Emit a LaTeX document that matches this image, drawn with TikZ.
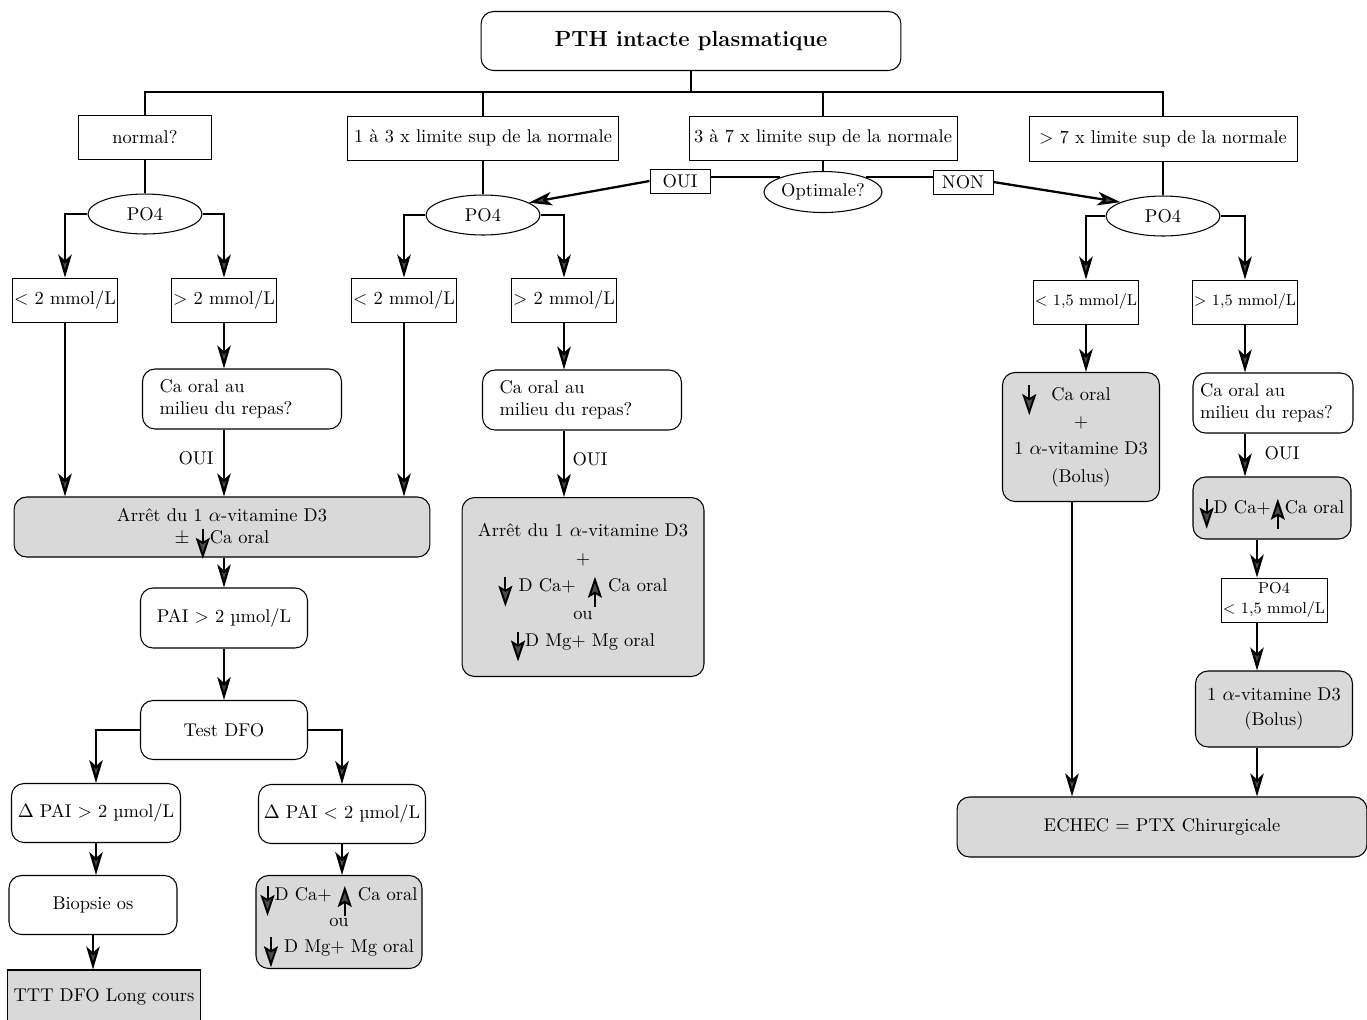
\documentclass[tikz,border=0pt]{standalone}
\usetikzlibrary{arrows.meta,shapes.geometric}
\newcommand{\arrdn}{\smash{\tikz[baseline=0pt]\draw[line width=1.1pt,-{Stealth[length=4.2mm,width=2.8mm,inset=0.8mm,fill=black!70]}] (0,0.3cm)--(0,-0.3cm);}}
\newcommand{\arrup}{\smash{\tikz[baseline=0pt]\draw[line width=1.1pt,-{Stealth[length=4.2mm,width=2.8mm,inset=0.8mm,fill=black!70]}] (0,-0.3cm)--(0,0.3cm);}}
\begin{document}
\begin{tikzpicture}[x=0.02cm, y=-0.02cm, font=\fontsize{10.5}{12.6}\selectfont,
  box/.style={draw, line width=0.5pt, inner sep=1pt, minimum height=0.88cm},
  rbox/.style={draw, line width=0.6pt, rounded corners=2.5mm, inner sep=2pt, align=center},
  gbox/.style={rbox, fill=black!15},
  oval/.style={ellipse, draw, line width=0.6pt, minimum width=2.28cm, minimum height=0.8cm, inner sep=0pt},
  small/.style={font=\fontsize{9}{11}\selectfont},
  wire/.style={line width=1.3pt},
  arr/.style={line width=1.3pt, -{Stealth[length=4.6mm,width=2.7mm,inset=1.2mm,fill=black!70]}}]
\useasboundingbox (0,0) rectangle (1367,1019);
\node[rbox, minimum width=8.4cm, minimum height=1.18cm, font=\fontsize{12.5}{15}\selectfont\bfseries] (pth) at (691,41) {PTH intacte plasmatique};
\coordinate (bus) at (691,92);
\node[box, minimum width=2.66cm] (normal) at (145,137) {normal?};
\node[box, minimum width=5.42cm] (lim13) at (483,138) {1 à 3 x limite sup de la normale};
\node[box, minimum width=5.36cm] (lim37) at (823,138) {3 à 7 x limite sup de la normale};
\node[box, minimum width=5.36cm, minimum height=0.9cm] (lim7) at (1163,139) {> 7 x limite sup de la normale};
\draw[wire] (pth.south) -- (bus);
\draw[wire] (normal.north) |- (lim7.north |- bus) -- (lim7.north);
\draw[wire] (lim13.north) -- (lim13.north |- bus);
\draw[wire] (lim37.north) -- (lim37.north |- bus);
\node[oval] (poA) at (145,214) {PO4};
\node[oval] (poB) at (483,215) {PO4};
\node[oval] (poC) at (1163,216) {PO4};
\node[oval, minimum height=0.82cm] (optim) at (823,192) {Optimale?};
\node[box, minimum height=0.48cm, minimum width=1.2cm] (oui) at (680,181) {OUI};
\node[box, minimum height=0.48cm, minimum width=1.2cm] (non) at (963,182) {NON};
\draw[wire] (normal.south) -- (poA.north);
\draw[wire] (lim13.south) -- (poB.north);
\draw[wire] (lim7.south) -- (poC.north);
\draw[wire] (lim37.south) -- (optim.north);
\draw[wire] (optim.161) -- (optim.161 -| oui.east);
\draw[wire] (optim.19) -- (optim.19 -| non.west);
\draw[arr] (oui.west) -- (poB.15);
\draw[arr] (non.east) -- (poC.162);
\node[box, minimum width=2.1cm] (lowA) at (65,300) {< 2 mmol/L};
\node[box, minimum width=2.1cm] (highA) at (224,300) {> 2 mmol/L};
\node[box, minimum width=2.1cm] (lowB) at (404,300) {< 2 mmol/L};
\node[box, minimum width=2.1cm] (highB) at (564,300) {> 2 mmol/L};
\node[box, small, minimum width=2.1cm] (lowC) at (1086,302) {< 1,5 mmol/L};
\node[box, small, minimum width=2.1cm] (highC) at (1245,302) {> 1,5 mmol/L};
\draw[arr] (poA.west) -| (lowA.north);
\draw[arr] (poA.east) -| (highA.north);
\draw[arr] (poB.west) -| (lowB.north);
\draw[arr] (poB.east) -| (highB.north);
\draw[arr] (poC.west) -| (lowC.north);
\draw[arr] (poC.east) -| (highC.north);
\node[rbox, align=left, text width=3.3cm, inner xsep=0.34cm, minimum height=1.2cm] (mealA) at (242,399) {Ca oral au\\milieu du repas?};
\node[rbox, align=left, text width=3.3cm, inner xsep=0.34cm, minimum height=1.2cm] (mealB) at (582,400) {Ca oral au\\milieu du repas?};
\node[rbox, align=left, text width=2.92cm, inner xsep=0.14cm, minimum height=1.2cm] (mealC) at (1273,403) {Ca oral au\\milieu du repas?};
\node[gbox, minimum width=8.32cm, minimum height=1.2cm] (stopA) at (222,527) {Arrêt du 1 $\alpha$-vitamine D3\\$\pm$ \arrdn Ca oral};
\node[gbox, minimum width=4.84cm, minimum height=3.58cm] (stopB) at (583,587) {Arrêt du 1 $\alpha$-vitamine D3\\[3pt] +\\[3pt] \arrdn\ D Ca+ \ \arrup\ Ca oral\\[3pt] ou\\[3pt] \arrdn D Mg+ Mg oral};
\node[gbox, minimum width=3.14cm, minimum height=2.58cm] (bolusA) at (1081,437) {\llap{\arrdn\hspace{0.3cm}}Ca oral\\[3pt] +\\[3pt] 1 $\alpha$-vitamine D3\\[3pt] (Bolus)};
\node[gbox, minimum width=3.16cm, minimum height=1.24cm] (calcC) at (1272,508) {\arrdn D Ca+\arrup Ca oral};
\node[box, small, align=center, minimum width=2.12cm] (poD) at (1274,600) {PO4\\< 1,5 mmol/L};
\node[gbox, minimum width=3.14cm, minimum height=1.52cm] (bolusB) at (1274,709) {1 $\alpha$-vitamine D3\\[2pt] (Bolus)};
\node[gbox, minimum width=8.2cm, minimum height=1.2cm] (echec) at (1162,827) {ECHEC = PTX Chirurgicale};
\coordinate (colR) at (1257,0);
\node (yesA) at (196,458) {OUI};
\node (yesB) at (590,459) {OUI};
\node (yesC) at (1282,453) {OUI};
\draw[arr] (lowA.south) -- (stopA.north -| lowA.south);
\draw[arr] (lowB.south) -- (stopA.north -| lowB.south);
\draw[arr] (highA.south) -- (mealA.north -| highA.south);
\draw[arr] (mealA.south -| highA.south) -- (stopA.north -| highA.south);
\draw[arr] (highB.south) -- (mealB.north -| highB.south);
\draw[arr] (mealB.south -| highB.south) -- (stopB.north -| highB.south);
\draw[arr] (lowC.south) -- (bolusA.north -| lowC.south);
\draw[arr] ([xshift=-9*0.02cm]bolusA.south) -- ([xshift=-9*0.02cm]bolusA.south |- echec.north);
\draw[arr] (highC.south) -- (mealC.north -| highC.south);
\draw[arr] (mealC.south -| highC.south) -- (calcC.north -| highC.south);
\draw[arr] (calcC.south -| colR) -- (poD.north -| colR);
\draw[arr] (poD.south -| colR) -- (bolusB.north -| colR);
\draw[arr] (bolusB.south -| colR) -- (echec.north -| colR);
\node[rbox, minimum width=3.34cm, minimum height=1.2cm] (pai) at (224,618) {PAI > 2 µmol/L};
\node[rbox, minimum width=3.34cm, minimum height=1.18cm] (dfo) at (224,730) {Test DFO};
\node[rbox, minimum width=3.38cm, minimum height=1.18cm] (dpaiA) at (96,813) {$\Delta$ PAI > 2 µmol/L};
\node[rbox, minimum width=3.34cm, minimum height=1.18cm] (dpaiB) at (342,814) {$\Delta$ PAI < 2 µmol/L};
\node[rbox, minimum width=3.36cm, minimum height=1.18cm] (biop) at (93,905) {Biopsie os};
\node[draw, line width=0.6pt, fill=black!15, minimum width=3.76cm, minimum height=1.08cm] (ttt) at (104,997) {TTT DFO Long cours};
\node[gbox, minimum width=3.32cm, minimum height=1.86cm] (mgB) at (339,922) {\arrdn D Ca+ \arrup\ Ca oral\\[2pt] ou\\[2pt] \arrdn\ D Mg+ Mg oral};
\draw[arr] (stopA.south -| pai.north) -- (pai.north);
\draw[arr] (pai.south) -- (dfo.north);
\draw[arr] (dfo.west) -| (dpaiA.north);
\draw[arr] (dfo.east) -| (dpaiB.north);
\draw[arr] (dpaiA.south) -- (dpaiA.south |- biop.north);
\draw[arr] (biop.south) -- (biop.south |- ttt.north);
\draw[arr] (dpaiB.south) -- (dpaiB.south |- mgB.north);
\end{tikzpicture}
\end{document}
